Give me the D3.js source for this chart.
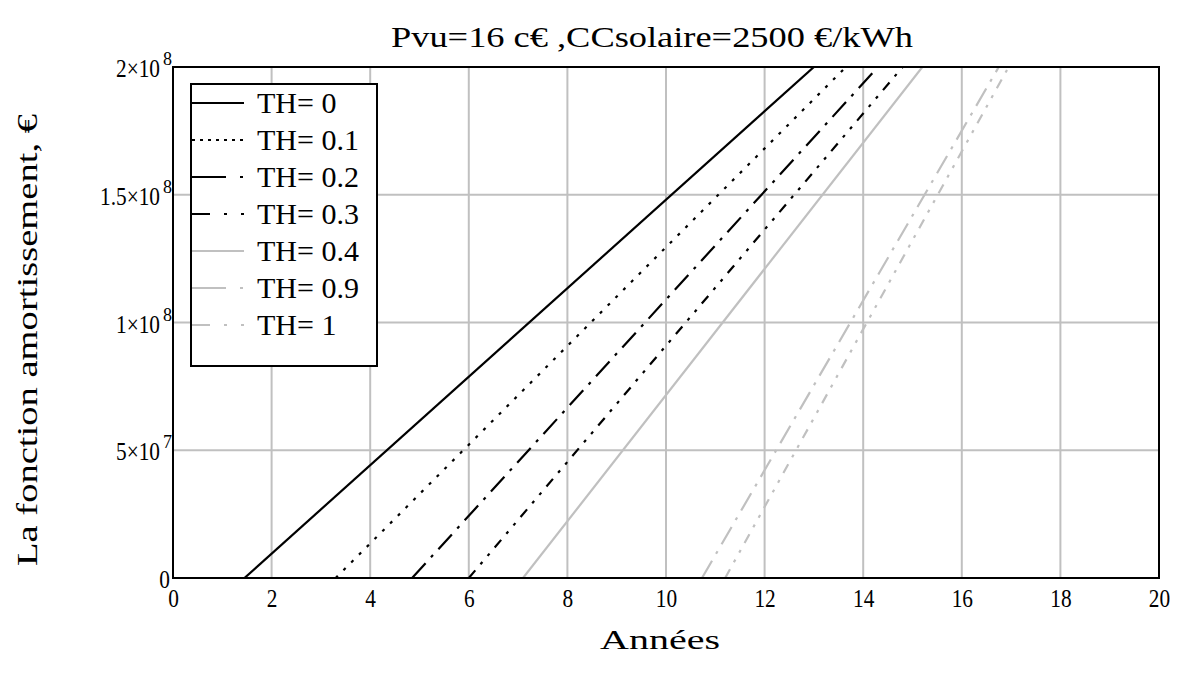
<!DOCTYPE html>
<html>
<head>
<meta charset="utf-8">
<script src="https://cdn.jsdelivr.net/npm/d3@7"></script>
<style>
    body { margin: 0; background: #fff; }
    text { font-family: "Liberation Serif", "DejaVu Serif", serif; fill: #000; }
</style>
</head>
<body>
<div id="chart"></div>
<script>
// series: [année, valeur] at the zero crossing and at the top of the frame
const seriesNames = ["TH= 0", "TH= 0.1", "TH= 0.2", "TH= 0.3", "TH= 0.4", "TH= 0.9", "TH= 1"];
const th0 = [[1.45, 0], [13.0, 2e8]];
const th01 = [[3.3, 0], [13.65, 2e8]];
const th02 = [[4.85, 0], [14.3, 2e8]];
const th03 = [[6.0, 0], [14.8, 2e8]];
const th04 = [[7.1, 0], [15.2, 2e8]];
const th09 = [[10.73, 0], [16.75, 2e8]];
const th1 = [[11.2, 0], [16.95, 2e8]];
const seriesData = [th0, th01, th02, th03, th04, th09, th1];

const xTicks = [0, 2, 4, 6, 8, 10, 12, 14, 16, 18, 20];
const yTicks = [0, 5e7, 1e8, 1.5e8, 2e8];
const yTickMant = ["0", "5×10", "1×10", "1.5×10", "2×10"];
const yTickExp = ["", "7", "8", "8", "8"];

const titleText = "Pvu=16 c€ ,CCsolaire=2500 €/kWh";
const xLabel = "Années";
const yLabel = "La fonction amortissement, €";

const black = "#000", grey = "#c0c0c0";
const styles = [
    {color: black, dash: null, legDash: null},
    {color: black, dash: "3,8", legDash: "3,5"},
    {color: black, dash: "20,8,3,8", legDash: "34,14,3,20"},
    {color: black, dash: "10,8,3,8,3,8", legDash: "18,14,3,14,3,20"},
    {color: grey, dash: null, legDash: null},
    {color: grey, dash: "20,8,3,8", legDash: "34,14,3,20"},
    {color: grey, dash: "10,8,3,8,3,8", legDash: "18,14,3,14,3,20"}
];

const W = 1178, H = 674;
const margin = {top: 67, right: 19, bottom: 96, left: 173};
const width = W - margin.left - margin.right,
    height = H - margin.top - margin.bottom;

const svg = d3.select("#chart").append("svg")
    .attr("width", W).attr("height", H);

const g = svg.append("g")
    .attr("transform", "translate(" + margin.left + "," + margin.top + ")");

const x = d3.scaleLinear().domain([0, 20]).range([0, width]);
const y = d3.scaleLinear().domain([0, 2e8]).range([height, 0]);

// narrow the glyphs a bit, the original font is condensed
function condense(sel, k) {
    sel.each(function() {
        const w = this.getComputedTextLength();
        d3.select(this).attr("textLength", w * k).attr("lengthAdjust", "spacingAndGlyphs");
    });
}

// grid
g.append("g").selectAll("line").data(xTicks.slice(1, -1)).enter().append("line")
    .attr("x1", d => x(d)).attr("x2", d => x(d))
    .attr("y1", 0).attr("y2", height)
    .attr("stroke", grey).attr("stroke-width", 2);
g.append("g").selectAll("line").data(yTicks.slice(1, -1)).enter().append("line")
    .attr("y1", d => y(d)).attr("y2", d => y(d))
    .attr("x1", 0).attr("x2", width)
    .attr("stroke", grey).attr("stroke-width", 2);

g.append("clipPath").attr("id", "clip")
    .append("rect").attr("width", width).attr("height", height);

const line = d3.line().x(d => x(d[0])).y(d => y(d[1]));

g.append("g").attr("clip-path", "url(#clip)")
    .selectAll("path").data(seriesData).enter().append("path")
    .attr("d", line)
    .attr("fill", "none")
    .attr("stroke", (d, i) => styles[i].color)
    .attr("stroke-width", 2.2)
    .attr("stroke-dasharray", (d, i) => styles[i].dash);

// frame
g.append("rect").attr("width", width).attr("height", height)
    .attr("fill", "none").attr("stroke", black).attr("stroke-width", 2);

// x tick labels
const xAxis = d3.axisBottom(x).tickValues(xTicks).tickSize(0).tickPadding(11);
const xg = g.append("g").attr("transform", "translate(0," + height + ")").call(xAxis);
xg.select(".domain").remove();
xg.selectAll("text").style("font-size", "26px")
    .style("font-family", "'Liberation Serif', serif")
    .call(condense, 0.82);

// y tick labels, mantissa (squeezed with a transform) and exponent as separate texts
const yg = g.append("g");
yg.selectAll("g.mant").data(yTicks).enter().append("g")
    .attr("class", "mant")
    .attr("transform", (d, i) => "translate(" + (i === 0 ? -3 : -13) + "," + (y(d) + 10) + ") scale(0.82,1)")
    .append("text")
    .attr("text-anchor", "end")
    .style("font-size", "26px")
    .text((d, i) => yTickMant[i]);
yg.selectAll("text.exp").data(yTicks.slice(1)).enter().append("text")
    .attr("class", "exp")
    .attr("x", -10)
    .attr("y", d => y(d) - 2)
    .style("font-size", "18px")
    .text((d, i) => yTickExp[i + 1]);

// titles
svg.append("text").attr("x", 652).attr("y", 47)
    .attr("text-anchor", "middle").style("font-size", "29px")
    .attr("textLength", 522).attr("lengthAdjust", "spacingAndGlyphs")
    .text(titleText);
svg.append("text").attr("x", 660).attr("y", 649)
    .attr("text-anchor", "middle").style("font-size", "28px")
    .attr("textLength", 120).attr("lengthAdjust", "spacingAndGlyphs")
    .text(xLabel);
svg.append("text")
    .attr("transform", "translate(37,340) rotate(-90)")
    .attr("text-anchor", "middle").style("font-size", "29px")
    .attr("textLength", 452).attr("lengthAdjust", "spacingAndGlyphs")
    .text(yLabel);

// legend
const leg = svg.append("g").attr("transform", "translate(191,84)");
leg.append("rect").attr("width", 186).attr("height", 282)
    .attr("fill", "#fff").attr("stroke", black).attr("stroke-width", 2);
const row = leg.selectAll("g.row").data(seriesNames).enter().append("g")
    .attr("class", "row")
    .attr("transform", (d, i) => "translate(0," + (19 + i * 37) + ")");
row.append("line").attr("x1", 1).attr("x2", 53)
    .attr("stroke", (d, i) => styles[i].color).attr("stroke-width", 2)
    .attr("stroke-dasharray", (d, i) => styles[i].legDash);
row.append("text").attr("x", 66).attr("y", 10).style("font-size", "30px").text(d => d);
</script>
</body>
</html>
